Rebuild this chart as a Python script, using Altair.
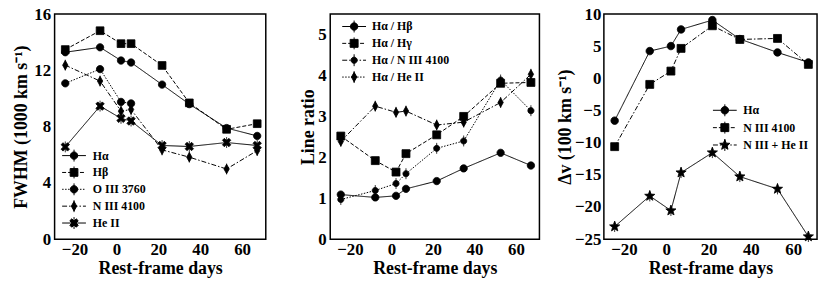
import math
import altair as alt
import pandas as pd

# ---------------- data ----------------
days = [-24.4, -7.8, 2.2, 7.0, 21.8, 34.8, 52.6, 67.2]

fwhm_series = ["Hα", "Hβ", "O III 3760", "N III 4100", "He II"]
fwhm_ha = [13.29, 13.64, 12.70, 12.56, 10.99, 9.60, 7.90, 7.34]
fwhm_hb = [13.48, 14.82, 13.90, 13.90, 12.35, 9.69, 7.81, 8.21]
fwhm_o3 = [11.08, 12.09, 9.76, 9.65]
fwhm_n3 = [12.37, 11.24, 9.10, 9.22, 6.35, 5.83, 4.99, 6.30]
fwhm_he2 = [6.56, 9.46, 8.59, 8.40, 6.66, 6.59, 6.87, 6.66]

ratio_series = ["Hα / Hβ", "Hα / Hγ", "Hα / N III 4100", "Hα / He II"]
ratio_ha_hb = [1.09, 1.02, 1.06, 1.23, 1.42, 1.73, 2.11, 1.80]
ratio_ha_hg = [2.52, 1.92, 1.64, 2.09, 2.55, 3.00, 3.81, 3.83]
ratio_ha_n3 = [0.97, 1.19, 1.36, 1.60, 2.22, 2.40, 3.89, 3.14]
ratio_ha_he2 = [2.39, 3.25, 3.10, 3.13, 2.79, 2.86, 3.34, 4.03]

dv_series = ["Hα", "N III 4100", "N III + He II"]
dv_ha = [-6.57, 4.25, 5.03, 7.62, 9.07, 6.12, 4.04, 2.49]
dv_n3 = [-10.61, -0.93, 1.14, 4.67, 8.19, 6.06, 6.22, 2.18]
dv_n3he2 = [-23.04, -18.28, -20.55, -14.65, -11.54, -15.27, -17.19, -24.59]

x_ticks = [-20, 0, 20, 40, 60]
x_domain = [-29.5, 71.3]

FONT = "Liberation Serif"


def long_df(series, values):
    rows = []
    for s, vals in zip(series, values):
        for d, v in zip(days, vals):
            rows.append({"day": d, "value": v, "series": s})
    return pd.DataFrame(rows)


# ---------------- marker shapes (SVG paths, in px then scaled) ----------------
def f(v):
    return f"{v:.3f}"


def circle(r):
    return lambda k: (f"M{f(r/k)},0A{f(r/k)},{f(r/k)},0,1,1,{f(-r/k)},0"
                      f"A{f(r/k)},{f(r/k)},0,1,1,{f(r/k)},0Z")


def square(h):
    return lambda k: f"M{f(-h/k)},{f(-h/k)}H{f(h/k)}V{f(h/k)}H{f(-h/k)}Z"


def diamond(w, h):
    return lambda k: f"M0,{f(-h/k)}L{f(w/k)},0L0,{f(h/k)}L{f(-w/k)},0Z"


def xcross(L, w):
    pts = [(-w, -L), (w, -L), (w, -w), (L, -w), (L, w), (w, w), (w, L), (-w, L),
           (-w, w), (-L, w), (-L, -w), (-w, -w)]
    c = math.cos(math.pi / 4)
    rot = [((x - y) * c, (x + y) * c) for x, y in pts]
    return lambda k: "M" + "L".join(f"{f(x/k)},{f(y/k)}" for x, y in rot) + "Z"


def star(R, r):
    pts = []
    for i in range(10):
        a = -math.pi / 2 + i * math.pi / 5
        rr = R if i % 2 == 0 else r
        pts.append((rr * math.cos(a), rr * math.sin(a)))
    return lambda k: "M" + "L".join(f"{f(x/k)},{f(y/k)}" for x, y in pts) + "Z"


def ebar(e):
    return lambda k: f"M0,{f(-e/k)}V{f(e/k)}"


def dash_line(pattern, half=12.0):
    def g(k):
        if not pattern:
            return f"M{f(-half/k)},0H{f(half/k)}"
        out, x, i, on = [], -half, 0, True
        while x < half:
            L = pattern[i % len(pattern)]
            if on:
                out.append(f"M{f(x/k)},0H{f(min(x + L, half)/k)}")
            x += L
            on = not on
            i += 1
        return "".join(out)
    return g


KP = 4.0   # px per unit for plot markers (size 64)
KL = 6.0   # px per unit for legend symbols (size 144)

SOLID, DASHED, DOTTED, DASHDOT = [], [4, 2], [1.5, 1.5], [5, 2, 1.5, 2]


def build(markers, dashes, errbars):
    plot_paths, legend_paths, dash_range = [], [], []
    for m, d, eb in zip(markers, dashes, errbars):
        p = m(KP)
        if eb:
            p += ebar(5.5)(KP)
        plot_paths.append(p)
        legend_paths.append(dash_line(d)(KL) + m(KL) + ebar(6)(KL))
        dash_range.append(d if d else [1, 0])
    return plot_paths, legend_paths, dash_range


def panel(df, series, markers, dashes, errbars, ydom, yvals, ytitle, width,
          yext, ylpad, ytpad, lx, ly, lrow, loff):
    plot_paths, legend_paths, dash_range = build(markers, dashes, errbars)
    x = alt.X("day:Q", scale=alt.Scale(domain=x_domain, nice=False, zero=False),
              axis=alt.Axis(values=x_ticks, title="Rest-frame days", labelPadding=2.5,
                            titlePadding=2, labelFlush=False))
    y = alt.Y("value:Q", scale=alt.Scale(domain=ydom, nice=False, zero=False),
              axis=alt.Axis(values=yvals, title=ytitle, labelPadding=ylpad,
                            titlePadding=ytpad, minExtent=yext, maxExtent=yext))
    base = alt.Chart(df)
    lines = base.mark_line(color="black", strokeWidth=1).encode(
        x=x, y=y,
        strokeDash=alt.StrokeDash("series:N", scale=alt.Scale(domain=series, range=dash_range),
                                  legend=None))
    pts = base.mark_point(filled=True, size=64, color="black", stroke="black",
                          strokeWidth=0.8, opacity=1).encode(
        x=x, y=y,
        shape=alt.Shape("series:N", scale=alt.Scale(domain=series, range=plot_paths),
                        legend=None))
    leg = base.mark_point(filled=True, size=144, color="black", stroke="black",
                          strokeWidth=1, opacity=0).encode(
        x=x, y=y,
        shape=alt.Shape("series:N", scale=alt.Scale(domain=series, range=legend_paths),
                        legend=alt.Legend(
                            title=None, orient="none", legendX=lx, legendY=ly,
                            symbolSize=144, symbolOpacity=1, symbolStrokeWidth=1,
                            labelOffset=loff, rowPadding=lrow, padding=0, labelLimit=0)))
    return alt.layer(lines, pts, leg).resolve_scale(shape="independent").properties(
        width=width, height=227)


left = panel(
    long_df(fwhm_series, [fwhm_ha, fwhm_hb, fwhm_o3, fwhm_n3, fwhm_he2]),
    fwhm_series,
    [circle(3.7), square(3.9), circle(3.7), diamond(2.7, 4.8), xcross(4.6, 1.4)],
    [SOLID, DASHED, DOTTED, DASHDOT, SOLID],
    [False, False, False, True, True],
    [0, 16], [0, 4, 8, 12, 16], "FWHM (1000 km s⁻¹)", 213,
    22, 4, 2, 13.1, 136.2, 0, 12.5)

middle = panel(
    long_df(ratio_series, [ratio_ha_hb, ratio_ha_hg, ratio_ha_n3, ratio_ha_he2]),
    ratio_series,
    [circle(3.7), square(4.0), circle(3.1), diamond(2.7, 4.8)],
    [SOLID, DASHED, DASHDOT, DOTTED],
    [False, False, True, True],
    [0, 5.5], [0, 1, 2, 3, 4, 5], "Line ratio", 211,
    12.3, 4, 1, 17.6, 6.0, 0, 11.5)

right = panel(
    long_df(dv_series, [dv_ha, dv_n3, dv_n3he2]),
    dv_series,
    [circle(3.8), square(4.0), star(5.4, 2.3)],
    [SOLID, DASHED, DASHDOT],
    [False, False, True],
    [-25, 10], [-25, -20, -15, -10, -5, 0, 5, 10], "Δv (100 km s⁻¹)", 215,
    29.5, 3, 0, 115.5, 90.5, 0.5, 12)

chart = alt.hconcat(left, middle, right, spacing=65, bounds="flush").properties(
    padding={"left": 4, "top": -5, "right": 0, "bottom": 0}
).configure_view(
    stroke="black", strokeWidth=1.5
).configure_axis(
    grid=False, ticks=False, tickSize=0, domain=False,
    labelFont=FONT, labelFontSize=17, labelFontWeight="bold", labelColor="black",
    titleFont=FONT, titleFontSize=18, titleFontWeight="bold", titleColor="black"
).configure_legend(
    labelFont=FONT, labelFontSize=12, labelFontWeight="bold", labelColor="black"
)

chart.save("out.html", embed_options={"renderer": "svg", "actions": False})
